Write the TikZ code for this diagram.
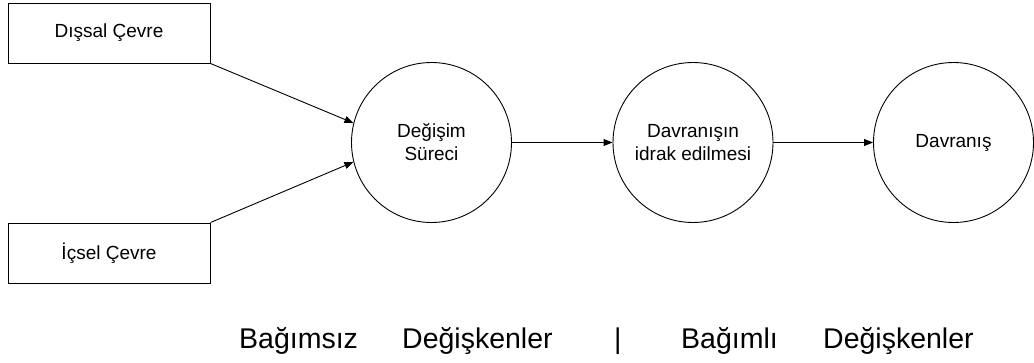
\documentclass[tikz,border=0pt]{standalone}
\usepackage{fontspec}
\setmainfont{Liberation Sans}
\usepackage{tikz}
\usetikzlibrary{arrows,arrows.meta,shapes,positioning,calc}

\begin{document}
\begin{tikzpicture}[x=1pt, y=-1pt, env/.style = {shape=rectangle,
          draw=black, line width=0.9pt, align=center,
          minimum height=60pt, minimum width=202pt,
          font=\fontsize{19}{23}\selectfont}, stage/.style =
        {shape=circle, draw=black, line width=0.9pt, align=center,
          minimum size=160pt, inner sep=0pt,
          font=\fontsize{19}{23}\selectfont},
        lbl/.style={anchor=base west, inner sep=0pt,
          font=\fontsize{28.5}{30}\selectfont},
        post/.style={-{Triangle[length=9pt,width=7pt]}, line width=0.9pt}]

        \useasboundingbox (0,0) rectangle (1034,362);

        \node [env] (dis) at (109,33) {Dışsal Çevre};
        \node [env] (ic) at (109,253) {İçsel Çevre};

        \node [stage] (degisim) at (431.5,142.5) {Değişim\\Süreci};
        \node [stage] (idrak) at (693,142.5) {Davranışın\\idrak edilmesi};
        \node [stage] (davranis) at (953.5,142.5) {Davranış};

        \draw [post] (dis.south east) -- (degisim.166);
        \draw [post] (ic.north east) -- (degisim.194);
        \draw [post] (degisim) -- (idrak);
        \draw [post] (idrak) -- (davranis);

        % alt satir
        \node [lbl] (bagimsiz) at (239,348) {Bağımsız};
        \node [lbl] (degisken1) at (402,348) {Değişkenler};
        \node [lbl] (ayrac) at (614,348) {|};
        \node [lbl] (bagimli) at (681,348) {Bağımlı};
        \node [lbl] (degisken2) at (823,348) {Değişkenler};
      \end{tikzpicture}
\end{document}
